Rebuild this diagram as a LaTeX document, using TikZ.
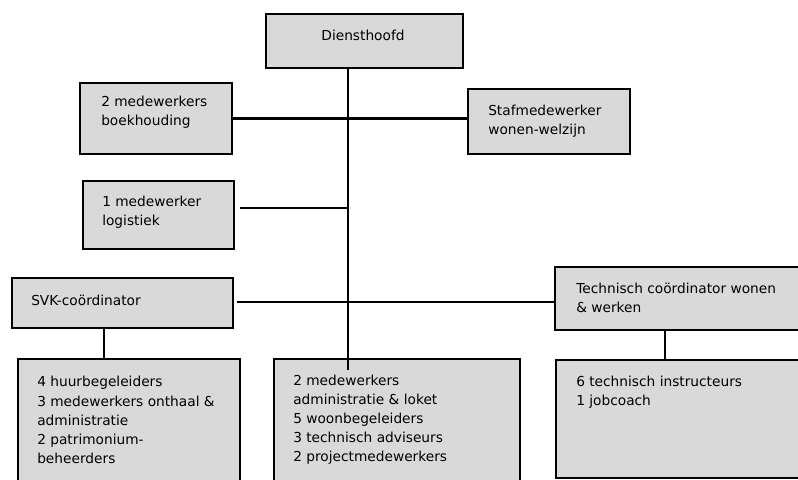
\documentclass[tikz,border=0pt]{standalone}
\usepackage{fontspec}
\setmainfont{DejaVu Sans}
\definecolor{boxgray}{HTML}{D9D9D9}
\begin{document}
\begin{tikzpicture}[x=0.75pt,y=-0.75pt,
  box/.style={draw, line width=1.5pt, fill=boxgray, anchor=north west, inner sep=0pt},
  lbl/.style={anchor=west, align=left, inner sep=0pt, font=\fontsize{10.3}{14.3}\selectfont},
  hline/.style={line width=1.6pt},
  vline/.style={line width=0.9pt}]
\useasboundingbox (0,0) rectangle (798,479);
% boxes
\node[box, minimum width=147.75pt, minimum height=40.5pt] (dh) at (265,13) {};
\node[box, minimum width=114pt, minimum height=53.25pt] (boek) at (79,82) {};
\node[box, minimum width=121.5pt, minimum height=48.75pt] (staf) at (467,88) {};
\node[box, minimum width=113.25pt, minimum height=51pt] (log) at (82,180) {};
\node[box, minimum width=165.75pt, minimum height=37.5pt] (svk) at (11,277) {};
\node[box, minimum width=195pt, minimum height=47.25pt] (tech) at (554,266) {};
\node[box, minimum width=166.5pt, minimum height=105pt] (huur) at (17,358) {};
\node[box, minimum width=184.5pt, minimum height=105pt] (woon) at (273,358) {};
\node[box, minimum width=195pt, minimum height=88.5pt] (instr) at (555,359) {};
% texts
\node[lbl, anchor=center] (dh-t) at (363,35) {Diensthoofd};
\node[lbl] (boek-t) at (101,112) {2 medewerkers\\boekhouding};
\node[lbl] (staf-t) at (488,121) {Stafmedewerker\\wonen-welzijn};
\node[lbl] (log-t) at (102,212) {1 medewerker\\logistiek};
\node[lbl] (svk-t) at (31,300) {SVK-coördinator};
\node[lbl] (tech-t) at (576,297.5) {Technisch coördinator wonen\\\& werken};
\node[lbl] (huur-t) at (37,420) {4 huurbegeleiders\\3 medewerkers onthaal \&\\administratie\\2 patrimonium-\\beheerders};
\node[lbl] (woon-t) at (293,419.5) {2 medewerkers\\administratie \& loket\\5 woonbegeleiders\\3 technisch adviseurs\\2 projectmedewerkers};
\node[lbl] (instr-t) at (576,392) {6 technisch instructeurs\\1 jobcoach};
% connectors
\coordinate (spine-top) at (348,67);
\coordinate (spine-end) at (348,370);
\coordinate (log-end) at (240,208);
\coordinate (svk-start) at (237,302);
\coordinate (svk-down) at (104,327);
\coordinate (tech-down) at (665,329);
\draw[vline] (spine-top) -- (spine-end);
\draw[hline] (boek.east) -- (boek.east -| staf.west);
\draw[hline] (log-end) -- (log-end -| spine-top);
\draw[hline] (svk-start) -- (svk-start -| tech.west);
\draw[vline] (svk-down) -- (svk-down |- huur.north);
\draw[vline] (tech-down) -- (tech-down |- instr.north);
\end{tikzpicture}
\end{document}
